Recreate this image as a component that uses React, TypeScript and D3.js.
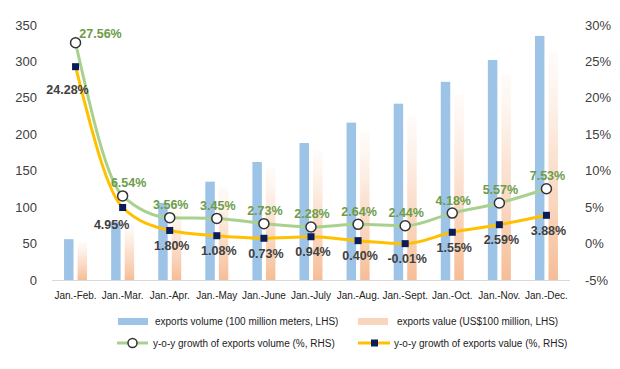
import React from "react";
import * as d3 from "d3";

const categories = [
  "Jan.-Feb.", "Jan.-Mar.", "Jan.-Apr.", "Jan.-May", "Jan.-June", "Jan.-July",
  "Jan.-Aug.", "Jan.-Sept.", "Jan.-Oct.", "Jan.-Nov.", "Jan.-Dec.",
];
const exportsVolume = [56, 80, 106, 135, 162, 188, 216, 242, 272, 302, 335];
const exportsValue = [52, 76, 100, 128, 154, 178, 203, 225, 254, 282, 313];
const volumeGrowth = [27.56, 6.54, 3.56, 3.45, 2.73, 2.28, 2.64, 2.44, 4.18, 5.57, 7.53];
const valueGrowth = [24.28, 4.95, 1.8, 1.08, 0.73, 0.94, 0.4, -0.01, 1.55, 2.59, 3.88];
const leftTicks = [0, 50, 100, 150, 200, 250, 300, 350];
const rightTicks = [-5, 0, 5, 10, 15, 20, 25, 30];
const legendLabels = [
  "exports volume (100 million meters, LHS)",
  "exports value (US$100 million, LHS)",
  "y-o-y growth of exports volume (%, RHS)",
  "y-o-y growth of exports value (%, RHS)",
];

const FONT = "'Liberation Sans', Arial, sans-serif";
const BLUE = "#9dc3e6";
const GREEN = "#a9d18e";
const YELLOW = "#ffc000";
const NAVY = "#0b1c5a";
const GREEN_TXT = "#6c9c48";
const DARK_TXT = "#404040";

export default function App() {
  const W = 620, H = 369;
  const left = 52, right = 570, top = 25, bottom = 280;

  const x = d3.scaleBand<string>().domain(categories).range([left, right]).padding(0);
  const sub = d3.scaleBand<string>().domain(["vol", "val"]).range([-11.5, 11.5]).paddingInner(0.3);
  const yL = d3.scaleLinear().domain([0, 350]).range([bottom, top]);
  const yR = d3.scaleLinear().domain([-5, 30]).range([bottom, top]);
  const cx = (c: string) => (x(c) as number) + x.bandwidth() / 2;

  const line = d3
    .line<number>()
    .x((_, i) => cx(categories[i]))
    .y((d) => yR(d))
    .curve(d3.curveMonotoneX);

  const fmt = (v: number) => v.toFixed(2) + "%";

  return (
    <svg
      width={W}
      height={H}
      style={{ position: "absolute", left: 0, top: 0, background: "#fff" }}
      fontFamily={FONT}
    >
      <defs>
        <linearGradient id="orangeGrad" x1="0" y1="1" x2="0" y2="0">
          <stop offset="0%" stopColor="#f4b183" stopOpacity={0.85} />
          <stop offset="55%" stopColor="#f8cbad" stopOpacity={0.55} />
          <stop offset="100%" stopColor="#fbe5d6" stopOpacity={0.15} />
        </linearGradient>
      </defs>

      {/* left axis labels */}
      {leftTicks.map((t) => (
        <text key={"l" + t} x={37} y={yL(t)} dy="0.35em" textAnchor="end" fontSize={13} fill={DARK_TXT}>
          {t}
        </text>
      ))}
      {/* right axis labels */}
      {rightTicks.map((t) => (
        <text key={"r" + t} x={585} y={yR(t)} dy="0.35em" textAnchor="start" fontSize={13} fill={DARK_TXT}>
          {t + "%"}
        </text>
      ))}

      {/* bars */}
      {categories.map((c, i) => (
        <g key={"b" + c}>
          <rect
            x={cx(c) + (sub("vol") as number)}
            y={yL(exportsVolume[i])}
            width={sub.bandwidth()}
            height={yL(0) - yL(exportsVolume[i])}
            fill={BLUE}
          />
          <rect
            x={cx(c) + (sub("val") as number)}
            y={yL(exportsValue[i])}
            width={sub.bandwidth()}
            height={yL(0) - yL(exportsValue[i])}
            fill="url(#orangeGrad)"
          />
        </g>
      ))}

      {/* baseline */}
      <line x1={left} x2={right} y1={bottom + 0.5} y2={bottom + 0.5} stroke="#d9d9d9" strokeWidth={1} />

      {/* category labels */}
      {categories.map((c) => (
        <text key={"c" + c} x={cx(c)} y={299} textAnchor="middle" fontSize={10} fill="#222">
          {c}
        </text>
      ))}

      {/* lines */}
      <path d={line(volumeGrowth) || ""} fill="none" stroke={GREEN} strokeWidth={3} />
      <path d={line(valueGrowth) || ""} fill="none" stroke={YELLOW} strokeWidth={3} />

      {/* markers */}
      {volumeGrowth.map((v, i) => (
        <circle key={"gm" + i} cx={cx(categories[i])} cy={yR(v)} r={5} fill="#fff" stroke="#333" strokeWidth={1.5} />
      ))}
      {valueGrowth.map((v, i) => (
        <rect key={"ym" + i} x={cx(categories[i]) - 3.5} y={yR(v) - 3.5} width={7} height={7} fill={NAVY} />
      ))}

      {/* data labels */}
      {volumeGrowth.map((v, i) => {
        const px = cx(categories[i]);
        const py = yR(v);
        const dx = i === 0 ? 25 : i === 1 ? 6 : 1;
        const dy = i === 0 ? -4.5 : -8.5;
        return (
          <text key={"gl" + i} x={px + dx} y={py + dy} textAnchor="middle" fontSize={12.5} fontWeight="bold" fill={GREEN_TXT}>
            {fmt(v)}
          </text>
        );
      })}
      {valueGrowth.map((v, i) => {
        const px = cx(categories[i]);
        const py = yR(v);
        const dx = i === 0 ? -8 : i === 1 ? -11 : 2;
        const dy = i === 0 ? 27 : i === 1 ? 21.5 : 19.5;
        return (
          <text key={"yl" + i} x={px + dx} y={py + dy} textAnchor="middle" fontSize={12.5} fontWeight="bold" fill={DARK_TXT}>
            {fmt(v)}
          </text>
        );
      })}

      {/* legend */}
      <g fontSize={10} fill="#222">
        <rect x={118} y={318} width={30} height={7} fill={BLUE} />
        <text x={155} y={321.5} dy="0.35em">{legendLabels[0]}</text>
        <rect x={358} y={318} width={30} height={7} fill="#f8cbad" opacity={0.8} />
        <text x={397} y={321.5} dy="0.35em">{legendLabels[1]}</text>

        <line x1={117} x2={148} y1={343} y2={343} stroke={GREEN} strokeWidth={3} />
        <circle cx={132.5} cy={343} r={4.5} fill="#fff" stroke="#333" strokeWidth={1.5} />
        <text x={153} y={343} dy="0.35em">{legendLabels[2]}</text>
        <line x1={358} x2={390} y1={343} y2={343} stroke={YELLOW} strokeWidth={3} />
        <rect x={371} y={339.5} width={7} height={7} fill={NAVY} />
        <text x={394} y={343} dy="0.35em">{legendLabels[3]}</text>
      </g>
    </svg>
  );
}
